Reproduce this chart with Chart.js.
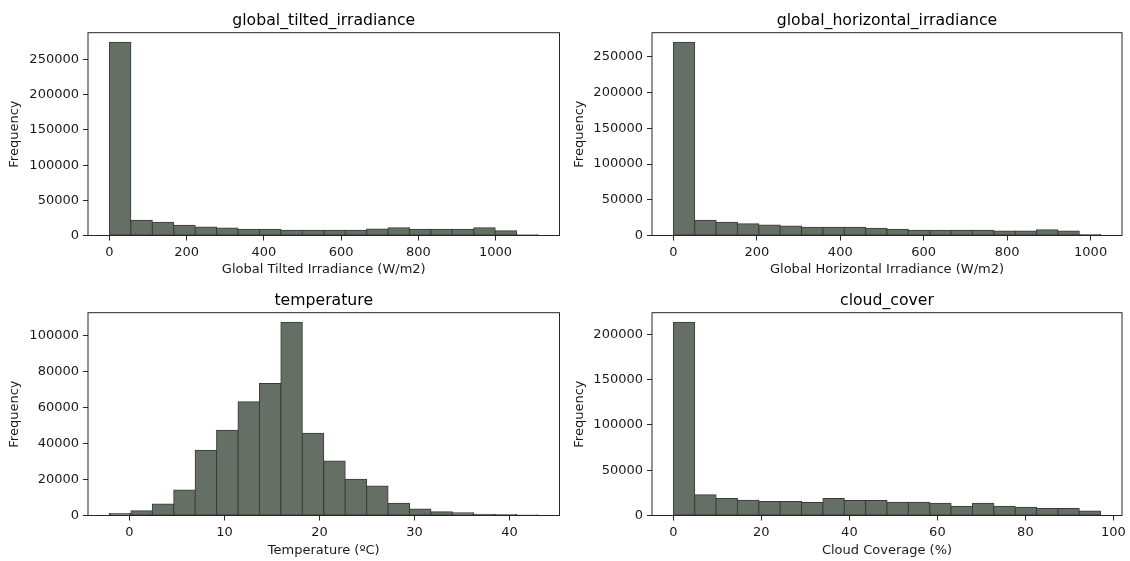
<!DOCTYPE html>
<html>
<head>
<meta charset="utf-8">
<title>Weather variable distributions</title>
<script src="https://cdn.jsdelivr.net/npm/chart.js@4.4.1/dist/chart.umd.min.js"></script>
<style>
  html, body { margin: 0; padding: 0; background: #ffffff; }
  body { width: 1130px; height: 561px; position: relative; overflow: hidden; }
  canvas { position: absolute; }
</style>
</head>
<body>
<canvas id="gti" width="565" height="280" style="left:0px;top:0px"></canvas>
<canvas id="ghi" width="565" height="280" style="left:565px;top:0px"></canvas>
<canvas id="temp" width="565" height="281" style="left:0px;top:280px"></canvas>
<canvas id="cloud" width="565" height="281" style="left:565px;top:280px"></canvas>
<script>
// Histogram counts, 20 equal-width bins per variable, with the data range each covers
const tiltedCounts = [274500, 21800, 18900, 14700, 12000, 10600, 9000, 9000, 7600, 7600,
                      7600, 7600, 9200, 11100, 9000, 9000, 9000, 11100, 6800, 900];
const tiltedRange = [0, 1110];

const horizontalCounts = [270500, 21500, 18700, 16300, 14700, 13300, 11500, 11500, 11500, 10000,
                          8700, 7200, 7200, 7200, 7200, 6300, 6300, 8000, 6300, 1500];
const horizontalRange = [0, 1024];

const temperatureCounts = [1100, 2700, 6400, 14200, 36200, 47300, 63200, 73200, 107200, 45600,
                           30300, 20100, 16400, 6800, 3600, 2100, 1500, 700, 600, 200];
const temperatureRange = [-2.1, 43.0];

const cloudCounts = [213200, 23000, 18900, 16900, 15400, 15400, 14300, 18900, 16500, 16500,
                     14500, 14500, 13400, 10100, 13400, 10300, 9000, 7700, 7700, 5000];
const cloudRange = [0, 97.1];

// Tick labels
const irradianceTicks = [0, 200, 400, 600, 800, 1000];
const irradianceFreqTicks = [0, 50000, 100000, 150000, 200000, 250000];
const temperatureTicks = [0, 10, 20, 30, 40];
const temperatureFreqTicks = [0, 20000, 40000, 60000, 80000, 100000];
const cloudTicks = [0, 20, 40, 60, 80, 100];
const cloudFreqTicks = [0, 50000, 100000, 150000, 200000];

const FONT = "'DejaVu Sans', 'Liberation Sans', sans-serif";
const INK = '#1a1a1a';
const BAR_FILL = '#666f65';
const BAR_EDGE = '#383d37';

Chart.defaults.font.family = FONT;

// Axes frame (all four spines) and the panel title centred over the plot area
const panelFrame = {
  id: 'panelFrame',
  afterDatasetsDraw(chart, args, opts) {
    const { ctx, chartArea: a } = chart;
    ctx.save();
    ctx.strokeStyle = '#262626';
    ctx.lineWidth = 1;
    ctx.strokeRect(a.left, a.top, a.right - a.left, a.bottom - a.top);
    ctx.fillStyle = '#000000';
    ctx.font = "15.7px " + FONT;
    ctx.textAlign = 'center';
    ctx.textBaseline = 'alphabetic';
    ctx.fillText(opts.text, (a.left + a.right) / 2, a.top - 7.8);
    ctx.restore();
  }
};

function histogram(id, cfg) {
  const canvas = document.getElementById(id);
  const n = cfg.counts.length;
  const span = cfg.range[1] - cfg.range[0];
  const binWidth = span / n;
  const points = cfg.counts.map((c, i) => ({ x: cfg.range[0] + binWidth * (i + 0.5), y: c }));
  const xMin = cfg.range[0] - 0.05 * span;
  const xMax = cfg.range[1] + 0.05 * span;
  const yMax = 1.05 * Math.max(...cfg.counts);
  const tickFont = { family: FONT, size: 13 };

  new Chart(canvas, {
    type: 'bar',
    data: {
      datasets: [{
        data: points,
        backgroundColor: BAR_FILL,
        borderColor: BAR_EDGE,
        borderWidth: 1,
        borderSkipped: false,
        inflateAmount: 0.5,
        barPercentage: 1,
        categoryPercentage: 1
      }]
    },
    options: {
      responsive: false,
      animation: false,
      devicePixelRatio: 1,
      events: [],
      layout: { padding: { top: 32.7, right: cfg.padRight, bottom: 0, left: 0 } },
      plugins: {
        legend: { display: false },
        tooltip: { enabled: false },
        title: { display: false },
        panelFrame: { text: cfg.title }
      },
      scales: {
        x: {
          type: 'linear',
          min: xMin,
          max: xMax,
          offset: false,
          border: { display: false },
          grid: { display: true, offset: false, drawOnChartArea: false, drawTicks: true,
                  tickLength: 5, color: '#262626', lineWidth: 1 },
          ticks: { font: tickFont, color: INK, padding: 4, maxRotation: 0, autoSkip: false,
                   callback: v => String(v) },
          afterBuildTicks: s => { s.ticks = cfg.xTicks.map(v => ({ value: v })); },
          afterFit: s => { s.height = canvas.height - 235.5; },
          title: { display: true, text: cfg.xLabel, font: tickFont, color: INK,
                   padding: { top: 0, bottom: 3 } }
        },
        y: {
          type: 'linear',
          min: 0,
          max: yMax,
          border: { display: false },
          grid: { display: true, drawOnChartArea: false, drawTicks: true,
                  tickLength: 5, color: '#262626', lineWidth: 1 },
          ticks: { font: tickFont, color: INK, padding: 4, autoSkip: false,
                   callback: v => String(v) },
          afterBuildTicks: s => { s.ticks = cfg.yTicks.map(v => ({ value: v })); },
          afterFit: s => { s.width = cfg.yWidth; },
          title: { display: true, text: 'Frequency', font: tickFont, color: INK,
                   padding: { top: 7, bottom: 0 } }
        }
      }
    },
    plugins: [panelFrame]
  });
}

histogram('gti', {
  title: 'global_tilted_irradiance', xLabel: 'Global Tilted Irradiance (W/m2)',
  counts: tiltedCounts, range: tiltedRange,
  xTicks: irradianceTicks, yTicks: irradianceFreqTicks, yWidth: 88, padRight: 5.5
});
histogram('ghi', {
  title: 'global_horizontal_irradiance', xLabel: 'Global Horizontal Irradiance (W/m2)',
  counts: horizontalCounts, range: horizontalRange,
  xTicks: irradianceTicks, yTicks: irradianceFreqTicks, yWidth: 87, padRight: 8
});
histogram('temp', {
  title: 'temperature', xLabel: 'Temperature (ºC)',
  counts: temperatureCounts, range: temperatureRange,
  xTicks: temperatureTicks, yTicks: temperatureFreqTicks, yWidth: 88, padRight: 5.5
});
histogram('cloud', {
  title: 'cloud_cover', xLabel: 'Cloud Coverage (%)',
  counts: cloudCounts, range: cloudRange,
  xTicks: cloudTicks, yTicks: cloudFreqTicks, yWidth: 87, padRight: 8
});
</script>
</body>
</html>
